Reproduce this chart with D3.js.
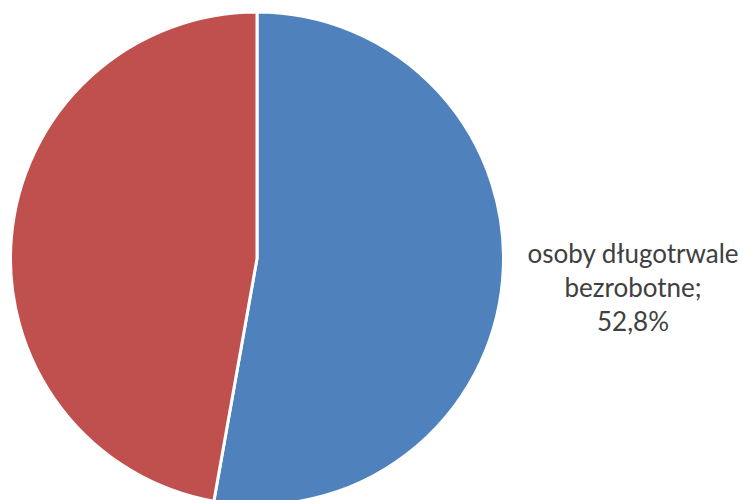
<!DOCTYPE html>
<html><head><meta charset="utf-8">
<script src="https://cdn.jsdelivr.net/npm/d3@7"></script>
<style>body{margin:0;background:#fff}svg{display:block}</style>
</head><body>
<svg id="c" width="740" height="500"></svg>
<script>
const categories = ["osoby długotrwale bezrobotne", "pozostali"];
const values = [52.8, 47.2];
const colors = ["#4F81BD", "#C0504D"];
const labelLines = [["osoby długotrwale", "bezrobotne;", "52,8%"], null];

const svg = d3.select("#c");
const cx = 257, cy = 258.5, r = 246.5;
const pie = d3.pie().sort(null).value(d => d)(values);
const arc = d3.arc().innerRadius(0).outerRadius(r);
const g = svg.append("g").attr("transform", `translate(${cx},${cy})`);
g.selectAll("path").data(pie).join("path")
  .attr("d", arc)
  .attr("fill", (d, i) => colors[i])
  .attr("stroke", "#fff").attr("stroke-width", 3).attr("stroke-linejoin", "round");

const t = svg.append("text")
  .attr("x", 633).attr("y", 263)
  .attr("text-anchor", "middle")
  .attr("font-family", "Lato, 'Open Sans', sans-serif")
  .attr("font-size", 26)
  .attr("fill", "#404040");
labelLines[0].forEach((s, i) => {
  t.append("tspan").attr("x", 633).attr("dy", i === 0 ? 0 : 34).text(s);
});
</script>
</body></html>
